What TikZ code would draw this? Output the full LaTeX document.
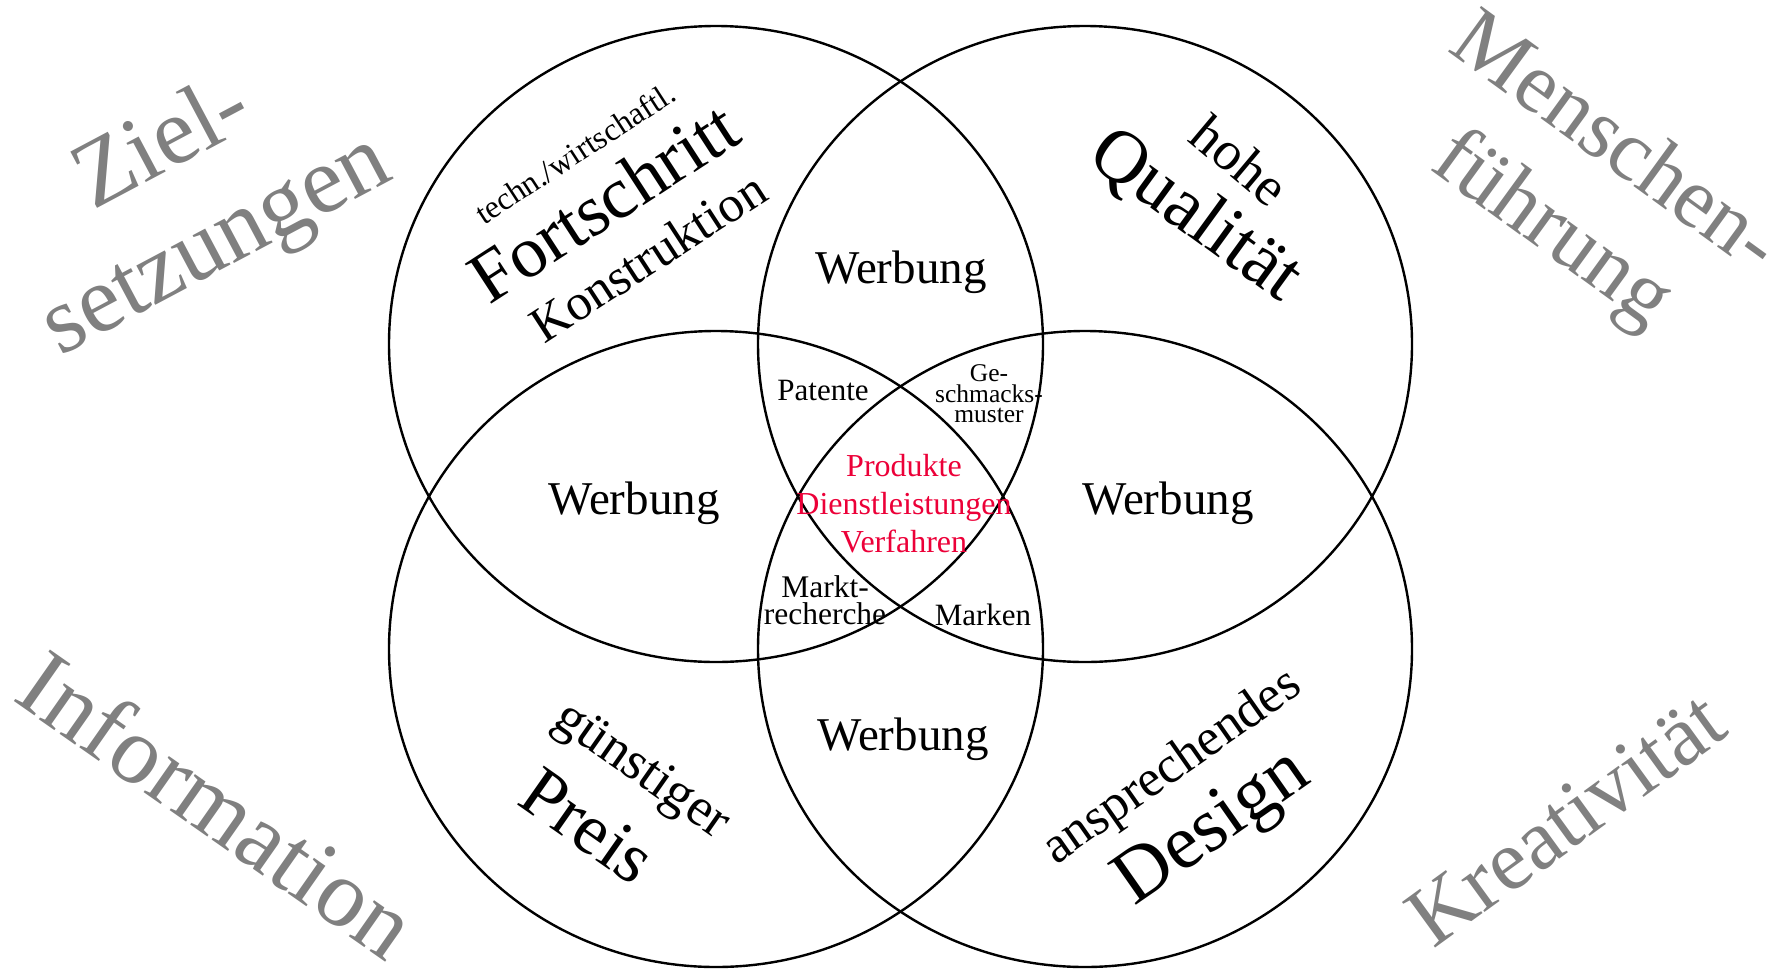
\documentclass[tikz,border=0pt]{standalone}
\usepackage{fontspec}
\setmainfont{Liberation Serif}
\newcommand\setfs[2]{\fontsize{#1}{#2}\selectfont}
\definecolor{corered}{RGB}{236,0,56}
\definecolor{cornergray}{RGB}{128,128,128}
\begin{document}
\begin{tikzpicture}[x=1pt,y=-1pt,
  ring/.style={line width=2.4pt, draw=black},
  txt/.style={inner sep=0pt, outer sep=0pt, text=black},
  gray label/.style={inner sep=0pt, outer sep=0pt, text=cornergray, align=center}]
\useasboundingbox (0,0) rectangle (1787,970);
% the four rings
\draw[ring] (716,344) ellipse [x radius=327pt, y radius=318pt];
\draw[ring] (1085,344) ellipse [x radius=327pt, y radius=318pt];
\draw[ring] (716,649) ellipse [x radius=327pt, y radius=318pt];
\draw[ring] (1085,649) ellipse [x radius=327pt, y radius=318pt];
% Werbung in the pairwise overlaps
\node[txt, anchor=base, font=\setfs{47}{56}] (wtop) at (901,283) {Werbung};
\node[txt, anchor=base, font=\setfs{47}{56}] (wleft) at (634,514) {Werbung};
\node[txt, anchor=base, font=\setfs{47}{56}] (wright) at (1168,514) {Werbung};
\node[txt, anchor=base, font=\setfs{47}{56}] (wbottom) at (903,750) {Werbung};
% triple overlaps
\node[txt, anchor=base, font=\setfs{31}{36}] (patente) at (823,400) {Patente};
\node[txt, align=center, font=\setfs{25.5}{20.5}] (geschm) at (989,394) {Ge-\\schmacks-\\muster};
\node[txt, align=center, font=\setfs{31.5}{26.5}] (markt) at (825,600) {Markt-\\recherche};
\node[txt, anchor=base, font=\setfs{31}{36}] (marken) at (983,625) {Marken};
% centre
\node[txt, align=center, text=corered, font=\setfs{32}{38}] (centre) at (904,504) {Produkte\\Dienstleistungen\\Verfahren};
% top left ring
\node[txt, rotate=33, font=\setfs{32}{36}] (techn) at (575,153) {techn./wirtschaftl.};
\node[txt, rotate=33, font=\setfs{73}{80}] (fort) at (603,202) {Fortschritt};
\node[txt, rotate=33, font=\setfs{51}{60}] (konst) at (648,257) {Konstruktion};
% top right ring
\node[txt, rotate=-40, font=\setfs{55}{60}] (hohe) at (1240,160) {hohe};
\node[txt, rotate=-36, font=\setfs{75}{80}] (qual) at (1195,216) {Qualität};
% bottom left ring
\node[txt, rotate=-35, font=\setfs{54}{60}] (guen) at (641,772) {günstiger};
\node[txt, rotate=-35, font=\setfs{72}{80}] (preis) at (588,826) {Preis};
% bottom right ring
\node[txt, rotate=35, font=\setfs{52}{60}] (anspr) at (1173,768) {ansprechendes};
\node[txt, rotate=35, font=\setfs{77}{85}] (design) at (1214,830) {Design};
% corner labels
\node[gray label, rotate=28, font=\setfs{95}{113}] (ziel) at (191,197) {Ziel-\\setzungen};
\node[gray label, rotate=-36, font=\setfs{86}{106}] (mensch) at (1582,189) {Menschen-\\führung};
\node[gray label, rotate=-35, font=\setfs{96}{110}] (info) at (218,804) {Information};
\node[gray label, rotate=36, font=\setfs{86}{100}] (krea) at (1566,819) {Kreativität};
\end{tikzpicture}
\end{document}
